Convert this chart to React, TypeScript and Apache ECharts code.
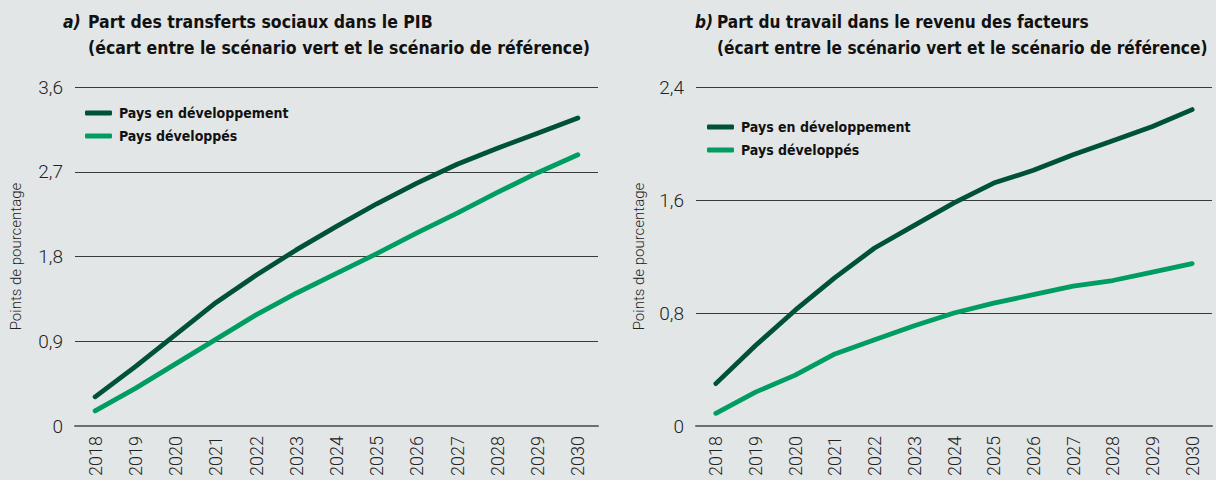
import React, { useEffect, useRef } from "react";
import * as echarts from "echarts";

const years = ["2018", "2019", "2020", "2021", "2022", "2023", "2024", "2025", "2026", "2027", "2028", "2029", "2030"];

const seriesNames = ["Pays en développement", "Pays développés"];

// Panel a) Part des transferts sociaux dans le PIB
const aDeveloping = [0.31, 0.63, 0.97, 1.31, 1.6, 1.87, 2.12, 2.36, 2.58, 2.78, 2.95, 3.11, 3.27];
const aDeveloped = [0.16, 0.4, 0.66, 0.92, 1.18, 1.41, 1.62, 1.83, 2.05, 2.26, 2.48, 2.69, 2.88];

// Panel b) Part du travail dans le revenu des facteurs
const bDeveloping = [0.3, 0.57, 0.82, 1.05, 1.26, 1.42, 1.58, 1.72, 1.81, 1.92, 2.02, 2.12, 2.24];
const bDeveloped = [0.09, 0.24, 0.36, 0.51, 0.61, 0.71, 0.8, 0.87, 0.93, 0.99, 1.03, 1.09, 1.15];

const aTicks = { min: 0, max: 3.6, interval: 0.9 };
const bTicks = { min: 0, max: 2.4, interval: 0.8 };

const titleA = ["a)", "Part des transferts sociaux dans le PIB", "(écart entre le scénario vert et le scénario de référence)"];
const titleB = ["b)", "Part du travail dans le revenu des facteurs", "(écart entre le scénario vert et le scénario de référence)"];
const yName = "Points de pourcentage";

const DARK = "#00513a";
const LIGHT = "#009d62";
const BG = "#e2e6e7";
const NARROW = "'Liberation Sans Narrow', 'DejaVu Sans Condensed', 'Roboto', sans-serif";
const LIGHTFONT = "Roboto, 'Noto Sans', sans-serif";

export default function App() {
  const ref = useRef<HTMLDivElement>(null);
  useEffect(() => {
    if (!ref.current) return;
    const chart = echarts.init(ref.current, null, { renderer: "svg" });
    const fmt = (v: number) => (v === 0 ? "0" : v.toFixed(1).replace(".", ","));
    const grids = [
      { left: 75, top: 87, width: 523, height: 339 },
      { left: 696, top: 87, width: 516, height: 339 },
    ];
    const xAxis = grids.map((_, i) => ({
      type: "category",
      gridIndex: i,
      data: years,
      boundaryGap: true,
      axisLine: { show: true, lineStyle: { color: "#6e6e6e", width: 2 } },
      axisTick: { show: false },
      axisLabel: { rotate: 90, margin: 10, fontSize: 18, color: "#222", fontFamily: LIGHTFONT, fontWeight: 300 },
      splitLine: { show: false },
    }));
    const yAxis = [aTicks, bTicks].map((t, i) => ({
      type: "value",
      gridIndex: i,
      min: t.min,
      max: t.max,
      interval: t.interval,
      name: yName,
      nameLocation: "middle",
      nameGap: i === 0 ? 52 : 50,
      nameRotate: 90,
      nameTextStyle: { fontSize: 15, color: "#222", fontFamily: LIGHTFONT, fontWeight: 300 },
      axisLine: { show: false },
      axisTick: { show: false },
      axisLabel: { formatter: fmt, margin: 12, fontSize: 19, color: "#222", fontFamily: LIGHTFONT, fontWeight: 300 },
      splitLine: { show: true, lineStyle: { color: "#3a3a3a", width: 1 } },
    }));
    const mk = (name: string, data: number[], idx: number, color: string) => ({
      type: "line",
      name,
      xAxisIndex: idx,
      yAxisIndex: idx,
      data,
      symbol: "none",
      smooth: false,
      lineStyle: { color, width: 4.8, cap: "round", join: "round" },
      itemStyle: { color },
      z: 3,
    });
    const titleStyle = { fontSize: 17.5, fontWeight: "bold", color: "#111", fontFamily: NARROW, lineHeight: 26 };
    const titleStyleB = { ...titleStyle, fontSize: 17.1 };
    const legendBase = {
      orient: "vertical",
      itemGap: 9,
      itemWidth: 27,
      itemHeight: 5,
      icon: "roundRect",
      data: [
        { name: seriesNames[0], itemStyle: { color: DARK } },
        { name: seriesNames[1], itemStyle: { color: LIGHT } },
      ],
      textStyle: { fontSize: 14, fontWeight: "bold", color: "#111", fontFamily: NARROW, padding: [0, 0, 0, 2] },
      selectedMode: false,
    };
    chart.setOption({
      animation: false,
      backgroundColor: BG,
      grid: grids,
      xAxis,
      yAxis,
      title: [
        { text: titleA[0], left: 58, top: 4, textStyle: { ...titleStyle, fontStyle: "italic" } },
        { text: titleA[1] + "\n" + titleA[2], left: 83, top: 4, textStyle: titleStyle },
        { text: titleB[0], left: 690, top: 4, textStyle: { ...titleStyleB, fontStyle: "italic" } },
        { text: titleB[1] + "\n" + titleB[2], left: 712, top: 4, textStyle: titleStyleB },
      ],
      legend: [
        { ...legendBase, left: 80, top: 101 },
        { ...legendBase, left: 702, top: 115 },
      ],
      series: [
        mk(seriesNames[0], aDeveloping, 0, DARK),
        mk(seriesNames[1], aDeveloped, 0, LIGHT),
        mk(seriesNames[0], bDeveloping, 1, DARK),
        mk(seriesNames[1], bDeveloped, 1, LIGHT),
      ],
    });
    return () => chart.dispose();
  }, []);
  return <div ref={ref} style={{ position: "fixed", left: 0, top: 0, width: 1216, height: 480 }} />;
}
